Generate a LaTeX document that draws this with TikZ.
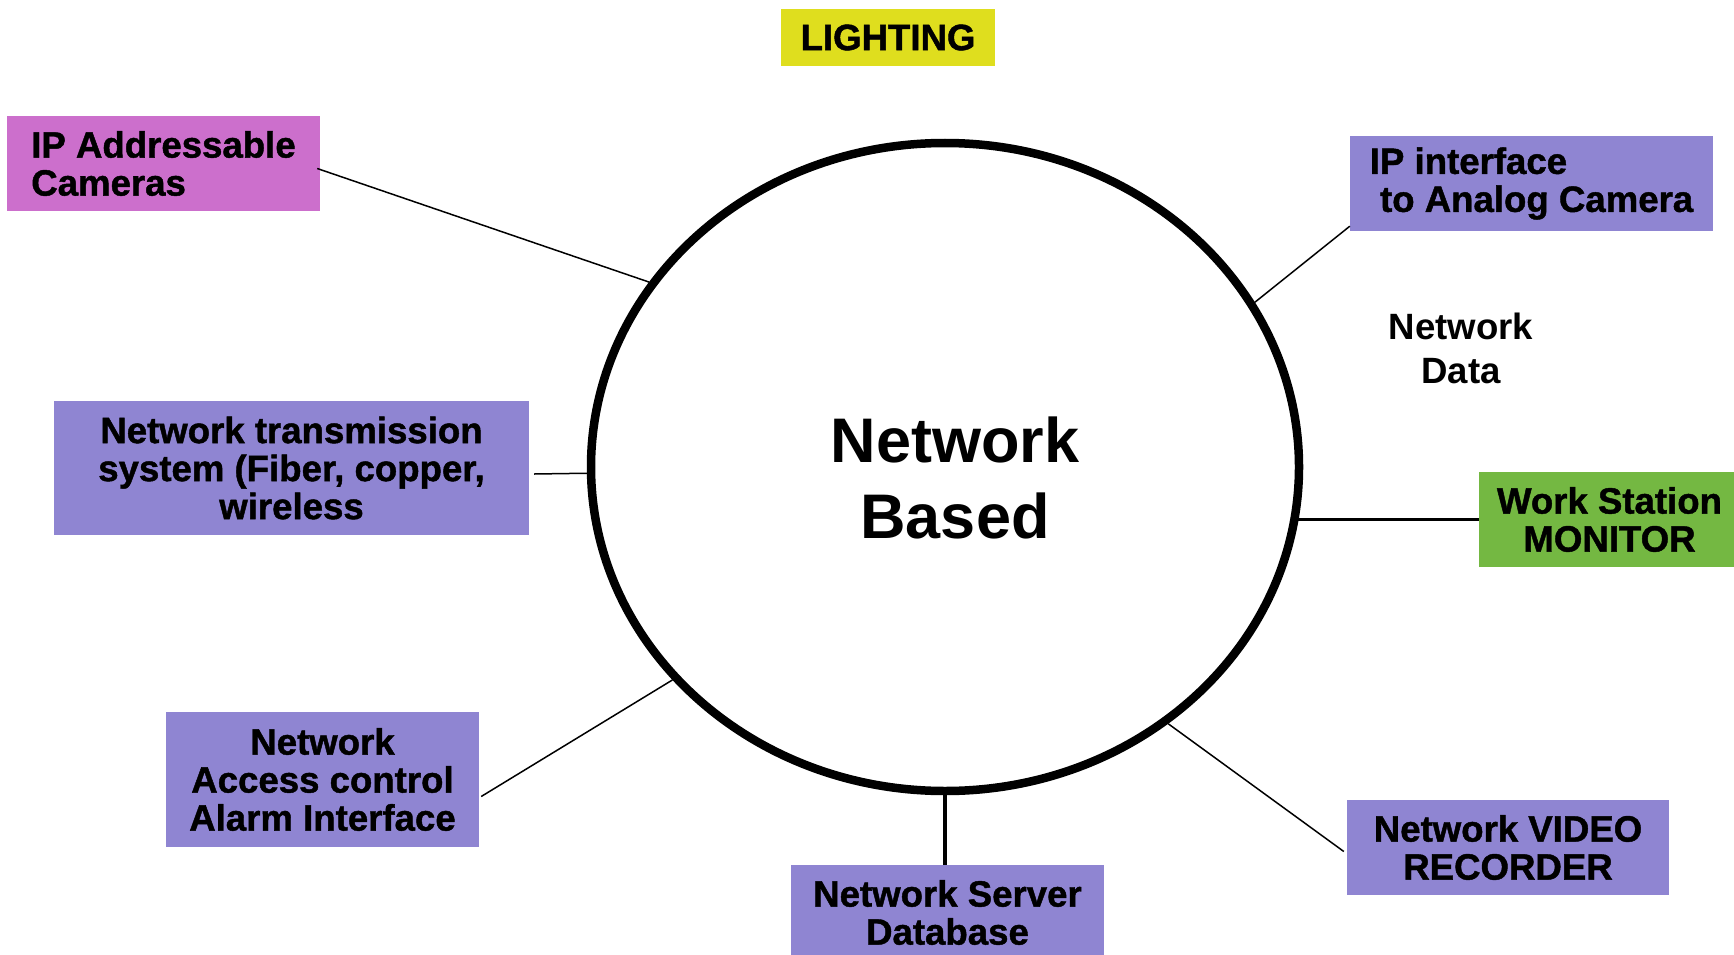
\documentclass[tikz,border=0pt]{standalone}
\usepackage{fontspec}
\setmainfont{Liberation Sans}
\newfontfamily\heavyfont{Liberation Sans Bold}[FakeBold=1.2]
\usetikzlibrary{shapes.geometric}

\definecolor{lampyellow}{HTML}{DFDE1E}
\definecolor{campink}{HTML}{CC6FCC}
\definecolor{devpurple}{HTML}{8F85D2}
\definecolor{wsgreen}{HTML}{74B842}

\newcommand{\boxfont}{\fontsize{36.6}{38}\selectfont\heavyfont}

\tikzset{
    device/.style={fill=#1, inner sep=0pt, minimum height=95pt, font=\boxfont},
    device/.default=devpurple,
    link/.style={line width=1.5pt},
    heavylink/.style={line width=3.5pt},
}

\begin{document}
\begin{tikzpicture}[x=1pt, y=-1pt]
\useasboundingbox (0, 0) rectangle (1734, 955);
% ring in the middle
\node[ellipse, draw, line width=8.5pt, minimum width=708pt, minimum height=648pt, inner sep=0pt] (hub) at (945, 467) {};
\node[font={\fontsize{63}{76}\selectfont\bfseries}, align=center] (based) at (955, 478) {Network\\Based};
\node[font={\fontsize{36.6}{44}\selectfont\bfseries}, align=center] (data) at (1461, 348) {Network\\Data};

\node[device=lampyellow, minimum width=214pt, minimum height=57pt] (light) at (888, 37.5) {LIGHTING};
\node[device=campink, minimum width=313pt, align=left] (cams) at (163.5, 163.5) {IP Addressable\\Cameras};
\node[device, minimum width=363pt, align=left] (iface) at (1531.5, 183.5) {IP interface\\\hspace*{0.28em}to Analog Camera};
\node[device, minimum width=475pt, minimum height=134pt, align=center] (trans) at (291.5, 468) {Network transmission\\system (Fiber, copper,\\wireless};
\node[device=wsgreen, minimum width=261pt, align=center] (wstation) at (1609.5, 519.5) {Work Station\\MONITOR};
\node[device, minimum width=313pt, minimum height=135pt, align=center] (access) at (322.5, 779.5) {Network\\Access control\\Alarm Interface};
\node[device, minimum width=313pt, align=center] (server) at (947.5, 912.5) {Network Server\\Database};
\node[device, minimum width=322pt, align=center] (vcr) at (1508, 847.5) {Network VIDEO\\RECORDER};

% spokes
\draw[link] ([xshift=-3pt, yshift=-5pt]cams.east) -- (hub.148.8);
\draw[link] ([yshift=5pt]iface.south west) -- (hub.28.2);
\draw[link] ([xshift=5pt, yshift=-6pt]trans.east) -- (hub.181.6);
\draw[heavylink] (wstation.west) -- ([xshift=-8pt]hub.east |- wstation.west);
\draw[link] ([xshift=2pt, yshift=-17pt]access.east) -- (hub.218.5);
\draw[heavylink] (hub.south) -- (hub.south |- server.north);
\draw[link] ([xshift=-3pt, yshift=-4pt]vcr.west) -- (hub.311.2);
\end{tikzpicture}
\end{document}
